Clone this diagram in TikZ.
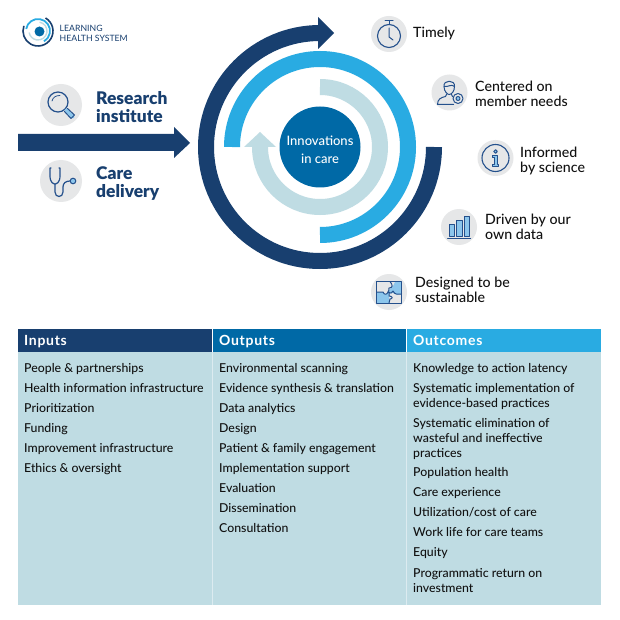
\documentclass[tikz,border=0pt]{standalone}
\usepackage{fontspec}
\setmainfont{Lato}
\newfontfamily\medf{Lato Medium}
\newfontfamily\blackf{Lato Black}
\newfontfamily\headf{Lato}[LetterSpace=5,BoldFont={Lato Bold}]
\definecolor{navy}{HTML}{183F6F}
\definecolor{midblue}{HTML}{29ABE2}
\definecolor{pale}{HTML}{BFDCE3}
\definecolor{core}{HTML}{0069A6}
\definecolor{disc}{HTML}{E6E7E8}
\definecolor{ink}{HTML}{24508C}
\definecolor{tint}{HTML}{8CC6EC}
\definecolor{txt}{HTML}{111111}
\definecolor{rule}{HTML}{DCEBF0}
\tikzset{
 ring/.style={line width=16pt,line cap=butt},
 icondisc/.style={circle,fill=disc,minimum size=42pt,inner sep=0pt},
 smalldisc/.style={circle,fill=disc,minimum size=36pt,inner sep=0pt},
 iconline/.style={draw=ink,line width=1pt,line join=round,line cap=round},
 strutted/.style={execute at begin node=\strut,execute at end node=\strut},
 bigtext/.style={anchor=west,inner sep=0pt,align=left,text=navy,strutted,font=\fontsize{17.4}{18}\selectfont\blackf},
 sidetext/.style={anchor=west,inner sep=0pt,align=left,text=txt,strutted,font=\fontsize{14.2}{15}\selectfont\medf},
 cell/.style={anchor=west,inner sep=0pt,align=left,text=txt,strutted,font=\fontsize{12.3}{15}\selectfont\medf},
 headtext/.style={anchor=west,inner sep=0pt,text=white,font=\fontsize{14}{15}\selectfont\headf\bfseries,text height=10.5pt,text depth=4.5pt},
}
\begin{document}
\begin{tikzpicture}[x=1pt,y=-1pt]
\useasboundingbox (0,0) rectangle (620,620);
\fill[white] (0,0) rectangle (620,620);
% logo
\draw[navy,line width=1.6pt] (38,31) ++(60:15pt) arc[start angle=60,end angle=-200,radius=15pt];
\draw[midblue,line width=1.8pt] (38,31) ++(170:12pt) arc[start angle=170,end angle=-60,radius=12pt];
\draw[pale,line width=1.4pt] (38,31) ++(80:9pt) arc[start angle=80,end angle=-170,radius=9pt];
\node[circle,fill=core,minimum size=10pt,inner sep=0pt] (logocore) at (39.5,31.5) {};
\node[anchor=west,inner sep=0pt,align=left,text=navy,font=\fontsize{8.7}{10}\selectfont] (logotext) at (59.5,33.5) {LEARNING\\HEALTH SYSTEM};
% input arrow
\fill[navy] (18,134) -- (174,134) -- (174,127) -- (190,143) -- (174,158) -- (174,151) -- (18,151) -- cycle;
% rings
\draw[navy,ring] (434,147) arc[start angle=0,end angle=-270,radius=114pt];
\fill[navy] (318,17) -- (334,33) -- (318,49) -- cycle;
\draw[midblue,ring] (320,235) arc[start angle=-90,end angle=180,radius=88pt];
\draw[pale,ring] (320,87) arc[start angle=90,end angle=-180,radius=60pt];
\fill[pale] (244,147) -- (260,132) -- (276,147) -- cycle;
\node[circle,fill=core,minimum size=81pt,inner sep=0pt] (hub) at (320,147) {};
\node[inner sep=0pt,text=white,align=center,font=\fontsize{13}{18}\selectfont\medf] (hubtext) at (320,149.5) {Innovations\\in care};
% left icons
\node[icondisc] (lens) at (61,105) {};
\begin{scope}[shift={(61,105)}]
 \draw[iconline,line width=1.2pt] (-3,-3) circle[radius=10pt];
 \draw[tint,line width=3.2pt,line cap=round] (5,5) -- (12,12);
 \draw[iconline] (3.5,6.5) -- (10,13.5) -- (13.5,10) -- (6.5,3.5);
 \draw[iconline,line width=.8pt] (-9,-4) .. controls (-8,-8) and (-5,-9.5) .. (-1,-9.5);
\end{scope}
\node[icondisc] (scope) at (61,181) {};
\begin{scope}[shift={(61,181)}]
 \draw[iconline,line width=1.2pt] (-10,-13) -- (-11,-13) -- (-11,-5) .. controls (-11,2) and (-7,3) .. (-6,3) .. controls (-5,3) and (-1,2) .. (-1,-5) -- (-1,-13) -- (-2,-13);
 \draw[iconline,line width=1.2pt] (-6,3) -- (-6,11) .. controls (-6,17) and (2,17) .. (2,11) -- (2,6) .. controls (2,2) and (5,0) .. (9,0);
 \draw[iconline,fill=tint] (12,0) circle[radius=2.8pt];
\end{scope}
\node[bigtext] (research) at (96,109.3) {Research\\institute};
\node[bigtext] (care) at (96,184.7) {Care\\delivery};
% right icons
\node[smalldisc] (watch) at (389,34) {};
\begin{scope}[shift={(389,34)}]
 \draw[iconline,line width=1.1pt] (0,2) circle[radius=11.5pt];
 \draw[iconline] (-4,-13.5) -- (4,-13.5) (0,-13.5) -- (0,-9.5);
 \draw[iconline] (0,-6) -- (0,3) -- (4,6);
\end{scope}
\node[sidetext] (timely) at (413,34.7) {Timely};
\node[smalldisc] (member) at (449.5,92.5) {};
\begin{scope}[shift={(449.5,92.5)}]
 \draw[iconline] (-5.5,-6) .. controls (-5.5,-1) and (-2,2) .. (-0.5,2) .. controls (2,2) and (5,-1) .. (5,-6) .. controls (6,-13) and (-6.5,-13) .. (-5.5,-6) -- cycle;
 \draw[iconline] (-5.5,-6) .. controls (-2,-5) and (2,-9) .. (5,-6);
 \draw[iconline] (-3,2) -- (-4,4) .. controls (-9,5) and (-12,7) .. (-12,12) -- (4,12);
 \draw[iconline] (2,2) -- (3,4);
 \draw[iconline,fill=disc] (8.5,6) circle[radius=5pt];
 \draw[iconline,fill=tint] (8.5,6) circle[radius=2pt];
\end{scope}
\node[sidetext] (centered) at (475,96.2) {Centered on\\member needs};
\node[smalldisc] (info) at (495.5,158) {};
\begin{scope}[shift={(495.5,158)}]
 \draw[iconline,line width=1.1pt] (0,0) circle[radius=13.5pt];
 \draw[iconline,fill=tint] (0,-6.5) circle[radius=1.8pt];
 \draw[iconline,fill=tint] (-3,-2.5) -- (1.5,-2.5) -- (1.5,7) -- (3,7) -- (3,9) -- (-3,9) -- (-3,7) -- (-1.5,7) -- (-1.5,-.5) -- (-3,-.5) -- cycle;
\end{scope}
\node[sidetext] (science) at (520,162) {Informed\\by science};
\node[smalldisc] (bars) at (459,227) {};
\begin{scope}[shift={(459,227)}]
 \draw[iconline,fill=tint] (-10,-3) rectangle (-5,9.5);
 \draw[iconline,fill=tint] (-2.5,-7) rectangle (3,9.5);
 \draw[iconline,fill=tint] (5,-11) rectangle (10,9.5);
 \draw[iconline] (-11.5,11) -- (11.5,11);
\end{scope}
\node[sidetext] (driven) at (485,228.8) {Driven by our\\own data};
\node[smalldisc] (puzzle) at (389,292) {};
\begin{scope}[shift={(389,292)}]
 \fill[tint] (-12,0) -- (-6,0) .. controls (-5,3) and (-2,3) .. (-1,0) -- (0,0) -- (0,11) -- (-12,11) -- cycle;
 \fill[tint] (0,2) .. controls (5,-2) and (6,5) .. (12,2) -- (12,-10) -- (6,-10) -- (4,-6) -- (0,-2) -- cycle;
 \draw[iconline] (-12.5,-10.5) rectangle (12.5,11);
 \draw[iconline] (-12.5,0) -- (-6,0) .. controls (-5,3) and (-2,3) .. (-1,0) .. controls (1,0) and (-1,-3) .. (0,-4) .. controls (4,-4) and (4,-7) .. (1,-10.5);
 \draw[iconline] (-1,0) .. controls (2,2) and (3,1) .. (4,-1) .. controls (6,3) and (8,2) .. (12.5,2);
 \draw[iconline] (0,0) -- (0,4) .. controls (4,4) and (4,7) .. (1,7) -- (0,11);
\end{scope}
\node[sidetext] (designed) at (415,292.2) {Designed to be\\sustainable};
% table
\fill[pale] (18,352) rectangle (601,604.5);
\fill[navy] (18,328.5) rectangle (212,352);
\fill[core] (212.7,328.5) rectangle (406,352);
\fill[midblue] (406.7,328.5) rectangle (601,352);
\draw[rule,line width=.6pt] (212.3,352) -- (212.3,604.5) (406.3,352) -- (406.3,604.5);
\node[headtext] (hin) at (24,342) {Inputs};
\node[headtext] (hout) at (219,342) {Outputs};
\node[headtext] (hres) at (413,342) {Outcomes};
\node[cell] (i1) at (24,369.3) {People \& partnerships};
\node[cell] (i2) at (24,389.3) {Health information infrastructure};
\node[cell] (i3) at (24,409.3) {Prioritization};
\node[cell] (i4) at (24,429.3) {Funding};
\node[cell] (i5) at (24,449.3) {Improvement infrastructure};
\node[cell] (i6) at (24,469.3) {Ethics \& oversight};
\node[cell] (o1) at (219,369.3) {Environmental scanning};
\node[cell] (o2) at (219,389.3) {Evidence synthesis \& translation};
\node[cell] (o3) at (219,409.3) {Data analytics};
\node[cell] (o4) at (219,429.3) {Design};
\node[cell] (o5) at (219,449.3) {Patient \& family engagement};
\node[cell] (o6) at (219,469.3) {Implementation support};
\node[cell] (o7) at (219,489.3) {Evaluation};
\node[cell] (o8) at (219,509.3) {Dissemination};
\node[cell] (o9) at (219,529.3) {Consultation};
\node[cell] (r1) at (413,369.3) {Knowledge to action latency};
\node[cell] (r2) at (413,398) {Systematic implementation of\\evidence-based practices};
\node[cell] (r3) at (413,440) {Systematic elimination of\\wasteful and ineffective\\practices};
\node[cell] (r4) at (413,473) {Population health};
\node[cell] (r5) at (413,493) {Care experience};
\node[cell] (r6) at (413,513) {Utilization/cost of care};
\node[cell] (r7) at (413,533) {Work life for care teams};
\node[cell] (r8) at (413,553) {Equity};
\node[cell] (r9) at (413,583) {Programmatic return on\\investment};
\end{tikzpicture}
\end{document}
